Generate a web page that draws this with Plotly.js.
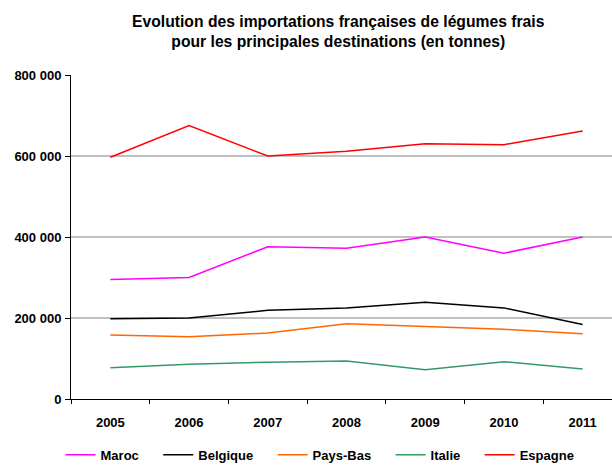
<!DOCTYPE html>
<html>
<head>
<meta charset="utf-8">
<script src="https://cdn.plot.ly/plotly-3.0.1.min.js"></script>
<style>
html,body{margin:0;padding:0;overflow:hidden;background:#fff;}
#chart{width:612px;height:465px;}
</style>
</head>
<body>
<div id="chart"></div>
<script>
const years = ["2005","2006","2007","2008","2009","2010","2011"];
const maroc    = [295000, 300000, 376000, 372000, 400000, 360000, 400000];
const belgique = [198000, 200000, 219000, 225000, 239000, 225000, 184000];
const paysBas  = [158000, 154000, 163000, 186000, 179000, 172000, 161000];
const italie   = [77000, 86000, 91000, 94000, 72000, 92000, 74000];
const espagne  = [597000, 675000, 600000, 612000, 630000, 628000, 662000];
const yTickVals = [0, 200000, 400000, 600000, 800000];
const yTickText = ["0", "200 000", "400 000", "600 000", "800 000"];
const seriesNames = ["Maroc", "Belgique", "Pays-Bas", "Italie", "Espagne"];

const NB = "\u00A0\u00A0\u00A0\u00A0";
const series = [
  {name: seriesNames[0], y: maroc, color: "#FF00FF"},
  {name: seriesNames[1], y: belgique, color: "#000000"},
  {name: seriesNames[2], y: paysBas, color: "#FF6600"},
  {name: seriesNames[3], y: italie, color: "#339966"},
  {name: seriesNames[4], y: espagne, color: "#FF0000"}
];

const traces = series.map(s => ({
  type: "scatter",
  mode: "lines",
  x: years,
  y: s.y,
  name: s.name + NB,
  line: {color: s.color, width: 1.5},
  hoverinfo: "x+y"
}));

const font = {family: "Liberation Sans, Arial, sans-serif", color: "#000"};

const layout = {
  width: 612,
  height: 465,
  paper_bgcolor: "#fff",
  plot_bgcolor: "#fff",
  margin: {l: 71, r: 0, t: 75, b: 66, autoexpand: false},
  title: {
    text: "<b>Evolution des importations françaises de légumes frais<br>pour les principales destinations (en tonnes)</b>",
    font: Object.assign({}, font, {size: 15.7}),
    x: 0.494, xref: "paper", xanchor: "center",
    y: 0.9425, yref: "container", yanchor: "middle"
  },
  xaxis: {
    type: "category",
    range: [-0.5, 6.373],
    showgrid: false,
    showline: true,
    linecolor: "#000",
    linewidth: 1,
    ticks: "outside",
    tickson: "boundaries",
    ticklen: 4,
    tickcolor: "#000",
    tickfont: Object.assign({}, font, {size: 13, weight: "bold"}),
    ticklabelstandoff: 11,
    zeroline: false,
    fixedrange: true
  },
  yaxis: {
    range: [0, 800000],
    tickvals: yTickVals,
    ticktext: yTickText,
    showgrid: true,
    gridcolor: "#c0c0c0",
    gridwidth: 1.5,
    showline: true,
    linecolor: "#000",
    linewidth: 1,
    ticks: "outside",
    ticklen: 5,
    tickcolor: "#000",
    tickfont: Object.assign({}, font, {size: 13, weight: "bold"}),
    ticklabelstandoff: 1,
    zeroline: false,
    fixedrange: true
  },
  showlegend: true,
  legend: {
    orientation: "h",
    xref: "container",
    x: 0.0989, xanchor: "left",
    yref: "container",
    y: 0.054, yanchor: "top",
    font: Object.assign({}, font, {size: 13, weight: "bold"}),
    itemwidth: 30,
    bgcolor: "rgba(0,0,0,0)"
  }
};

Plotly.newPlot("chart", traces, layout, {displayModeBar: false, staticPlot: true});
</script>
</body>
</html>
